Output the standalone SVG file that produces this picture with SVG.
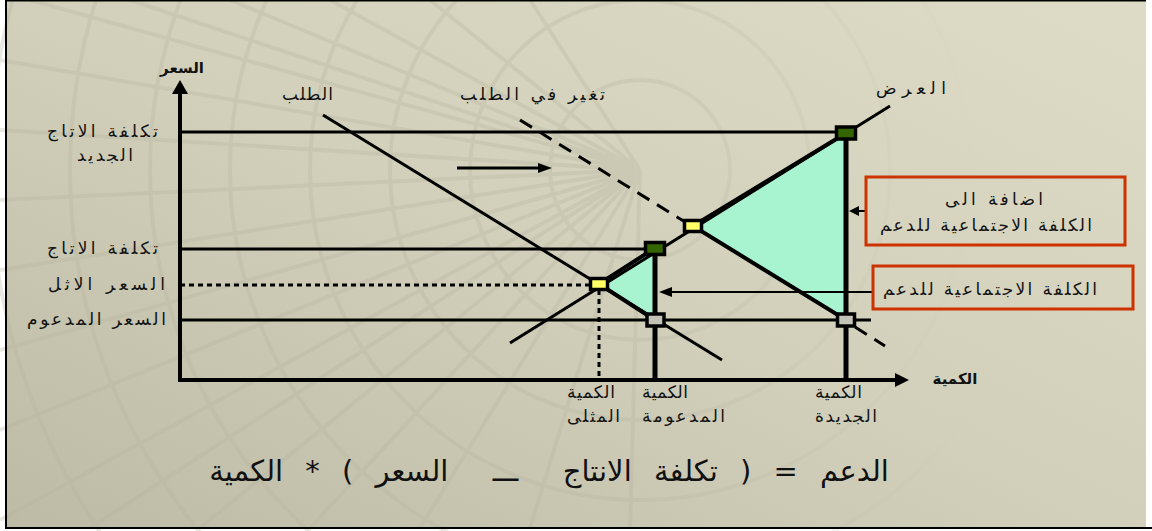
<svg xmlns="http://www.w3.org/2000/svg" width="1152" height="531" viewBox="0 0 1152 531">
<defs>
<linearGradient id="bg" x1="1" y1="0" x2="0" y2="1">
<stop offset="0" stop-color="#dedcc7"/>
<stop offset="0.5" stop-color="#d2d0bb"/>
<stop offset="1" stop-color="#bdbba6"/>
</linearGradient>
<linearGradient id="fade" x1="0" y1="0" x2="1" y2="0">
<stop offset="0" stop-color="#fff"/>
<stop offset="0.55" stop-color="#fff"/>
<stop offset="0.85" stop-color="#000"/>
</linearGradient>
<mask id="m" maskUnits="userSpaceOnUse" x="0" y="0" width="1152" height="531">
<rect x="0" y="0" width="1152" height="531" fill="url(#fade)"/>
</mask>
<style>
.ln{stroke:#000;fill:none;stroke-width:3}
.ax{stroke:#000;fill:none;stroke-width:4}
.vt{stroke:#000;fill:none;stroke-width:5}
.pt{stroke:#000;stroke-width:3.5}
.tri{fill:#a8f3d0;stroke:#000;stroke-width:4;stroke-linejoin:miter}
.tx{font-family:"DejaVu Sans","Liberation Sans",sans-serif;font-size:17px;fill:#111;text-anchor:start}
.md{text-anchor:middle}
.bd{font-weight:bold;font-size:15px}
.fm{font-size:29px;text-anchor:middle;word-spacing:13px;white-space:pre}
.bx{fill:none;stroke:#cc3300;stroke-width:3}
.grid{stroke:#b5b49f;stroke-width:4;fill:none;opacity:0.3}
</style>
</defs>
<rect x="0" y="0" width="1152" height="531" fill="#fff"/>
<rect x="5" y="0" width="1141" height="528" fill="url(#bg)"/>
<g id="texture" class="grid" mask="url(#m)">
<path d="M640 170 L0 60 M640 170 L0 130 M640 170 L0 200 M640 170 L0 270 M640 170 L0 350 M640 170 L0 430 M640 170 L0 520 M640 170 L90 528 M640 170 L200 528 M640 170 L310 528 M640 170 L420 528 M640 170 L530 528 M640 170 L630 528 M640 170 L30 0 M640 170 L130 0 M640 170 L230 0 M640 170 L330 0 M640 170 L430 0 M640 170 L530 0"/>
<circle cx="640" cy="170" r="90"/>
<circle cx="640" cy="170" r="170"/>
<circle cx="640" cy="170" r="250"/>
<circle cx="640" cy="170" r="330"/>
<circle cx="640" cy="170" r="410"/>
<circle cx="640" cy="170" r="490"/>
<circle cx="640" cy="170" r="570"/>
<circle cx="640" cy="170" r="650"/>
</g>
<path d="M6 0 V529 M5 0.5 H1146 M5 528 H1152" stroke="#000" stroke-width="2" fill="none"/>

<g id="triangles">
<polygon class="tri" points="599,284 655,248 655,320"/>
<polygon class="tri" points="693,226 846,133 846,320"/>
</g>

<g id="connectors">
<line class="ln" x1="180" y1="132" x2="846" y2="132"/>
<line class="ln" x1="180" y1="249" x2="655" y2="249"/>
<line class="ln" x1="180" y1="285" x2="599" y2="285" stroke-dasharray="5,4"/>
<line class="ln" x1="180" y1="320" x2="871" y2="320"/>
<line class="ln" x1="323" y1="115" x2="722" y2="360"/>
<line class="ln" x1="520" y1="120" x2="690" y2="225" stroke-dasharray="14,9"/>
<line class="ln" x1="855" y1="327" x2="885" y2="346" stroke-dasharray="14,9"/>
<line class="ln" x1="510" y1="343" x2="890" y2="106"/>
<line class="vt" x1="655" y1="248" x2="655" y2="380"/>
<line class="vt" x1="846" y1="133" x2="846" y2="380"/>
<line class="ln" x1="599" y1="290" x2="599" y2="380" stroke-dasharray="5,4" stroke-width="4"/>
<line class="ln" x1="457" y1="168" x2="540" y2="168"/>
<polygon points="552,168 538,163 538,173" fill="#000"/>
<line x1="873" y1="292" x2="670" y2="292" stroke="#000" stroke-width="2"/>
<polygon points="659,292 672,287 672,297" fill="#000"/>
<line x1="866" y1="211" x2="855" y2="211" stroke="#000" stroke-width="2"/>
<polygon points="849,211 859,206 859,216" fill="#000"/>
<line class="ax" x1="180" y1="90" x2="180" y2="382"/>
<polygon points="180,80 172,94 188,94" fill="#000"/>
<line class="ax" x1="178" y1="380" x2="897" y2="380"/>
<polygon points="909,380 895,373 895,387" fill="#000"/>
</g>

<g id="points">
<rect class="pt" x="590.5" y="278.5" width="17" height="11" fill="#ffff66"/>
<rect class="pt" x="684.5" y="220.5" width="17" height="11" fill="#ffff66"/>
<rect class="pt" x="645.5" y="242.5" width="19" height="12" fill="#336600"/>
<rect class="pt" x="836.5" y="127" width="19" height="12" fill="#336600"/>
<rect class="pt" x="647" y="314" width="17" height="12" fill="#c4c3b8"/>
<rect class="pt" x="837.5" y="314" width="17" height="12" fill="#c4c3b8"/>
</g>

<g id="box-upper">
<rect class="bx" x="866" y="177" width="259" height="68"/>
<text class="tx" x="945" y="205" textLength="98" lengthAdjust="spacing">اضافة الى</text>
<text class="tx" x="880" y="231" textLength="212" lengthAdjust="spacing">الكلفة الاجتماعية للدعم</text>
</g>
<g id="box-lower">
<rect class="bx" x="873" y="266" width="260" height="43"/>
<text class="tx" x="883" y="295" textLength="214" lengthAdjust="spacing">الكلفة الاجتماعية للدعم</text>
</g>

<g id="labels">
<text class="tx md bd" x="182" y="73">السعر</text>
<text class="tx md bd" x="955" y="384">الكمية</text>
<text class="tx" x="47" y="137" textLength="111" lengthAdjust="spacing">تكلفة الاتاج</text>
<text class="tx" x="77" y="161" textLength="56" lengthAdjust="spacing">الجديد</text>
<text class="tx" x="47" y="254" textLength="111" lengthAdjust="spacing">تكلفة الاتاج</text>
<text class="tx" x="48" y="290" textLength="117" lengthAdjust="spacing">السعر الاثل</text>
<text class="tx" x="27" y="325" textLength="139" lengthAdjust="spacing">السعر المدعوم</text>
<text class="tx" x="282" y="100" textLength="51" lengthAdjust="spacing">الطلب</text>
<text class="tx" x="460" y="100" textLength="145" lengthAdjust="spacing">تغير في الطلب</text>
<text class="tx" x="876" y="94" textLength="70" lengthAdjust="spacing">العرض</text>
<text class="tx" x="567" y="398" textLength="48" lengthAdjust="spacing">الكمية</text>
<text class="tx" x="567" y="422" textLength="53" lengthAdjust="spacing">المثلى</text>
<text class="tx" x="642" y="398" textLength="46" lengthAdjust="spacing">الكمية</text>
<text class="tx" x="642" y="422" textLength="83" lengthAdjust="spacing">المدعومة</text>
<text class="tx" x="815" y="398" textLength="47" lengthAdjust="spacing">الكمية</text>
<text class="tx" x="815" y="422" textLength="62" lengthAdjust="spacing">الجديدة</text>
</g>
<g id="formula">
<text class="tx fm" x="549" y="481">الدعم = ( تكلفة الانتاج  ـــ  السعر ) * الكمية</text>
</g>
</svg>
